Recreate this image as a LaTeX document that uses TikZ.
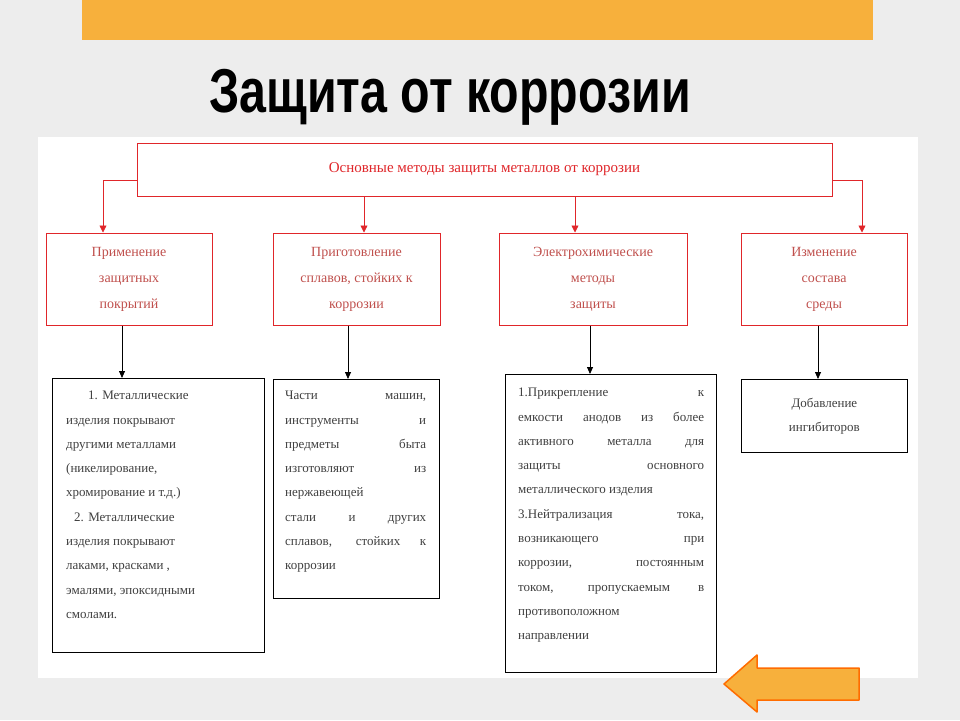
\documentclass[tikz,border=0pt]{standalone}
\usepackage{fontspec}
\setmainfont{Liberation Serif}
\newfontfamily\titlefont{Liberation Sans}
\usetikzlibrary{positioning,arrows.meta}
\definecolor{orangebar}{HTML}{F7B03C}
\definecolor{redline}{HTML}{E0262A}
\definecolor{redtext}{HTML}{C0504D}
\definecolor{bodytext}{HTML}{404040}
\newcommand{\jl}[2]{\makebox[#1][s]{#2}}
\tikzset{
  methodbox/.style={draw=redline, line width=1pt, minimum width=166pt, minimum height=92pt,
    text=redtext, align=center, font=\fontsize{14}{26}\selectfont},
  detailbox/.style={draw=black, line width=0.8pt, anchor=north west, inner sep=0pt},
  detailtext/.style={anchor=north west, text=bodytext, align=left, inner sep=0pt,
    font=\fontsize{13}{24.3}\selectfont},
  redarrow/.style={draw=redline, line width=0.8pt, -{Triangle[length=7pt,width=7pt]}},
  blackarrow/.style={draw=black, line width=0.8pt, -{Triangle[length=7pt,width=6pt]}}
}
\begin{document}
\begin{tikzpicture}[x=1pt,y=-1pt]
\useasboundingbox (0,0) rectangle (960,720);
\fill[black!7] (0,0) rectangle (960,720);
\fill[white] (38,137) rectangle (918,678);
\fill[orangebar] (82,0) rectangle (873,40);
\node (title) at (450,97) {\titlefont\bfseries\fontsize{62}{62}\selectfont\scalebox{0.78}[1]{Защита от коррозии}};

% main box
\node[draw=redline, line width=1pt, minimum width=695pt, minimum height=53pt,
  text=redline, font=\fontsize{15}{18}\selectfont] (main) at (484.5,169.5)
  {Основные методы защиты металлов от коррозии};

% methods
\node[methodbox] (coat) at (129,279) {Применение\\защитных\\покрытий};
\node[methodbox, minimum width=167pt] (alloy) at (356.5,279) {Приготовление\\сплавов, стойких к\\коррозии};
\node[methodbox, minimum width=188pt] (electro) at (593,279) {Электрохимические\\методы\\защиты};
\node[methodbox] (medium) at (824,279) {Изменение\\состава\\среды};

\coordinate (mainL) at (137,180);
\coordinate (mainR) at (832,180);
\draw[redarrow] (mainL) -| (coat.north -| 103,0);
\draw[redarrow] (mainR) -| (medium.north -| 862,0);
\draw[redarrow] (main.south -| 364,0) -- (alloy.north -| 364,0);
\draw[redarrow] (main.south -| 575,0) -- (electro.north -| 575,0);

% details
\node[detailbox, minimum width=212pt, minimum height=274pt] (coatd) at (52,378) {};
\node[detailtext] (coatt) at (66,391)
  {\hspace*{22pt}1. Металлические\\изделия покрывают\\другими металлами\\(никелирование,\\хромирование и т.д.)\\\hspace*{8pt}2. Металлические\\изделия покрывают\\лаками, красками ,\\эмалями, эпоксидными\\смолами.};
\node[detailbox, minimum width=166pt, minimum height=219pt] (alloyd) at (273,379) {};
\node[detailtext] (alloyt) at (285,391)
  {\jl{141pt}{Части машин,}\\\jl{141pt}{инструменты и}\\\jl{141pt}{предметы быта}\\\jl{141pt}{изготовляют из}\\нержавеющей\\\jl{141pt}{стали и других}\\\jl{141pt}{сплавов, стойких к}\\коррозии};
\node[detailbox, minimum width=211pt, minimum height=298pt] (electrod) at (505,374) {};
\node[detailtext] (electrot) at (518,388)
  {\jl{186pt}{1.Прикрепление к}\\\jl{186pt}{емкости анодов из более}\\\jl{186pt}{активного металла для}\\\jl{186pt}{защиты основного}\\металлического изделия\\\jl{186pt}{3.Нейтрализация тока,}\\\jl{186pt}{возникающего при}\\\jl{186pt}{коррозии, постоянным}\\\jl{186pt}{током, пропускаемым в}\\противоположном\\направлении};
\node[detailbox, minimum width=166pt, minimum height=73pt] (mediumd) at (741,379) {};
\node[text=bodytext, align=center, font=\fontsize{13}{24.3}\selectfont] (mediumt)
  at (mediumd.center) {Добавление\\ингибиторов};

\draw[blackarrow] (coat.south -| 122,0) -- (coatd.north -| 122,0);
\draw[blackarrow] (alloy.south -| 348,0) -- (alloyd.north -| 348,0);
\draw[blackarrow] (electro.south -| 590,0) -- (electrod.north -| 590,0);
\draw[blackarrow] (medium.south -| 818,0) -- (mediumd.north -| 818,0);

% back button
\draw[fill=orangebar, draw=orange!85!red, line width=1.5pt, line join=round]
  (724,684) -- (757,655) -- (757,668) -- (859,668) -- (859,700) -- (757,700) -- (757,712) -- cycle;
\end{tikzpicture}
\end{document}
